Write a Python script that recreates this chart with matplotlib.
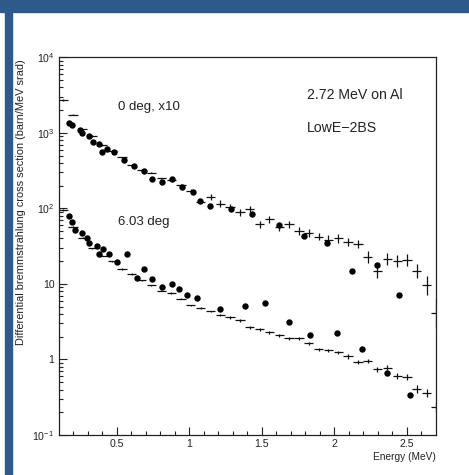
import numpy as np
import matplotlib
matplotlib.use("Agg")
import matplotlib.pyplot as plt
from matplotlib.ticker import FixedLocator, FixedFormatter, LogLocator, NullFormatter

plt.rcParams['font.family'] = ['Liberation Sans', 'DejaVu Sans']
plt.rcParams['mathtext.fontset'] = 'custom'
plt.rcParams['mathtext.rm'] = 'Liberation Sans'
plt.rcParams['mathtext.it'] = 'Liberation Sans:italic'
plt.rcParams['mathtext.bf'] = 'Liberation Sans:bold'

# bin centres of the simulated spectra (MeV)
energy_bins = [0.131, 0.199, 0.266, 0.334, 0.402, 0.470, 0.537, 0.605, 0.673, 0.740,
               0.808, 0.876, 0.943, 1.011, 1.079, 1.147, 1.214, 1.282, 1.350, 1.417,
               1.485, 1.553, 1.620, 1.688, 1.756, 1.824, 1.891, 1.959, 2.027, 2.094,
               2.162, 2.230, 2.297, 2.365, 2.433, 2.501, 2.568, 2.636, 2.699]
bin_half = 0.032

# simulation, 0 deg (x10)
sim_0deg = [2719, 1748, 1113, 907, 689, 574, 473, 375, 322, 296,
            250, 237, 204, 171, 122, 143, 116, 105, 88.5, 98,
            61.4, 71.5, 57, 61.4, 50.5, 47.5, 42.3, 38, 40, 36.1,
            33.7, 22.4, 14.9, 21.1, 20, 20.7, 14.9, 9.6, 4.1]
sim_0deg_rel = [0.02, 0.02, 0.02, 0.02, 0.02, 0.02, 0.02, 0.02, 0.02, 0.02,
                0.02, 0.04, 0.04, 0.04, 0.04, 0.10, 0.10, 0.10, 0.10, 0.10,
                0.12, 0.12, 0.12, 0.12, 0.12, 0.12, 0.12, 0.16, 0.16, 0.13,
                0.13, 0.20, 0.24, 0.20, 0.20, 0.20, 0.25, 0.34, 0.58]

# simulation, 6.03 deg
sim_6deg = [94.9, 57.0, 40.8, 29.5, 23.6, 20.0, 15.7, 13.5, 11.2, 9.6,
            8.1, 7.6, 6.4, 5.2, 4.8, 4.36, 3.86, 3.60, 3.29, 2.65,
            2.52, 2.28, 2.08, 1.90, 1.90, 1.64, 1.37, 1.32, 1.25, 1.10,
            0.93, 0.957, 0.74, 0.78, 0.60, 0.59, 0.41, 0.355, 0.235]
sim_6deg_rel = [0.02, 0.02, 0.02, 0.02, 0.02, 0.02, 0.02, 0.02, 0.02, 0.02,
                0.02, 0.02, 0.02, 0.02, 0.02, 0.02, 0.02, 0.04, 0.04, 0.05,
                0.05, 0.05, 0.05, 0.05, 0.05, 0.05, 0.05, 0.05, 0.05, 0.07,
                0.07, 0.07, 0.09, 0.09, 0.09, 0.09, 0.13, 0.13, 0.17]

# experimental data, 0 deg (x10)
exp_0deg_e = [0.174, 0.192, 0.245, 0.261, 0.313, 0.335, 0.382, 0.399, 0.433, 0.485,
              0.554, 0.623, 0.692, 0.743, 0.812, 0.880, 0.949, 1.025, 1.075, 1.144,
              1.289, 1.431, 1.619, 1.791, 1.951, 2.119, 2.291, 2.447]
exp_0deg = [1361, 1268, 1089, 1003, 907, 763, 711, 562, 605, 562,
            436, 367, 315, 242, 225, 242, 193, 163, 125, 107,
            98, 84, 61, 43, 34.4, 14.9, 17.7, 7.1]

# experimental data, 6.03 deg
exp_6deg_e = [0.169, 0.192, 0.215, 0.261, 0.295, 0.313, 0.364, 0.406, 0.382, 0.449,
              0.502, 0.571, 0.644, 0.692, 0.743, 0.812, 0.880, 0.933, 0.984, 1.053,
              1.213, 1.385, 1.523, 1.690, 1.830, 2.020, 2.188, 2.360, 2.518]
exp_6deg = [79.1, 66.5, 51.6, 47.5, 40.8, 34.4, 31.7, 28.7, 24.6, 24.6,
            19.3, 24.6, 11.8, 16.0, 11.6, 9.2, 9.9, 8.5, 7.2, 6.5,
            4.7, 5.1, 5.6, 3.15, 2.10, 2.26, 1.38, 0.668, 0.34]

W, H = 469, 475
fig = plt.figure(figsize=(W / 100, H / 100), dpi=100)
fig.patch.set_facecolor('white')

# blue page frame (top band and a strip down the left)
frame_col = '#2d5a8a'
fig.patches.append(plt.Rectangle((0, 1 - 12 / H), 1, 12 / H, transform=fig.transFigure,
                                 color=frame_col, zorder=0))
fig.patches.append(plt.Rectangle((5 / W, 0), 7 / W, 1, transform=fig.transFigure,
                                 color=frame_col, zorder=0))

ax = fig.add_axes([58.5 / W, (H - 435) / H, (436 - 58.5) / W, (435 - 57.3) / H])
ax.set_yscale('log')
ax.set_xlim(0.1, 2.7)
ax.set_ylim(0.1, 1e4)


def draw_sim(y, rel):
    y = np.array(y)
    rel = np.array(rel)
    lo = y - y / (1 + rel)
    hi = y * rel
    ax.errorbar(energy_bins, y, xerr=bin_half, yerr=[lo, hi], fmt='none',
                ecolor='#111111', elinewidth=0.9, capsize=0, zorder=2)


draw_sim(sim_0deg, sim_0deg_rel)
draw_sim(sim_6deg, sim_6deg_rel)
ax.plot(exp_0deg_e, exp_0deg, 'o', color='black', ms=4.6, mew=0, zorder=3)
ax.plot(exp_6deg_e, exp_6deg, 'o', color='black', ms=4.6, mew=0, zorder=3)

# axes styling, ROOT-like
for side in ['left', 'bottom', 'right', 'top']:
    ax.spines[side].set_linewidth(0.9)
    ax.spines[side].set_color('#222222')
ax.tick_params(which='both', direction='in', top=False, right=False, width=0.8,
               colors='#222222', labelsize=7.6)
ax.tick_params(which='major', length=5.5, pad=3)
ax.tick_params(which='minor', length=3)

ax.xaxis.set_major_locator(FixedLocator([0.5, 1, 1.5, 2, 2.5]))
ax.xaxis.set_major_formatter(FixedFormatter(['0.5', '1', '1.5', '2', '2.5']))
ax.xaxis.set_minor_locator(FixedLocator([0.2, 0.3, 0.4, 0.6, 0.7, 0.8, 0.9, 1.1, 1.2, 1.3,
                                         1.4, 1.6, 1.7, 1.8, 1.9, 2.1, 2.2, 2.3, 2.4, 2.6]))
ax.yaxis.set_major_locator(FixedLocator([0.1, 1, 10, 100, 1000, 10000]))
ax.yaxis.set_major_formatter(FixedFormatter([r'$\mathregular{10^{-1}}$', '1', '10',
                                             r'$\mathregular{10^{2}}$', r'$\mathregular{10^{3}}$',
                                             r'$\mathregular{10^{4}}$']))
ax.yaxis.set_minor_locator(LogLocator(base=10, subs=np.arange(2, 10), numticks=20))
ax.yaxis.set_minor_formatter(NullFormatter())

# titles
fig.text(436 / W, 1 - 457 / H, 'Energy (MeV)', ha='right', va='center', fontsize=7.3,
         color='#222222')
fig.text(21 / W, 1 - 59 / H, 'Differential bremmstrahlung cross section (barn/MeV srad)',
         rotation=90, ha='center', va='top', fontsize=7.9, color='#222222')

# annotations
fig.text(118 / W, 1 - 107 / H, '0 deg, x10', ha='left', va='center', fontsize=9.5,
         color='#222222')
fig.text(118 / W, 1 - 222 / H, '6.03 deg', ha='left', va='center', fontsize=9.5,
         color='#222222')
fig.text(306.5 / W, 1 - 95 / H, '2.72 MeV on Al', ha='left', va='center', fontsize=10.2,
         color='#222222')
fig.text(306.5 / W, 1 - 128.5 / H, 'LowE\u22122BS', ha='left', va='center', fontsize=10.2,
         color='#222222')

fig.savefig('out.png', dpi=100)
